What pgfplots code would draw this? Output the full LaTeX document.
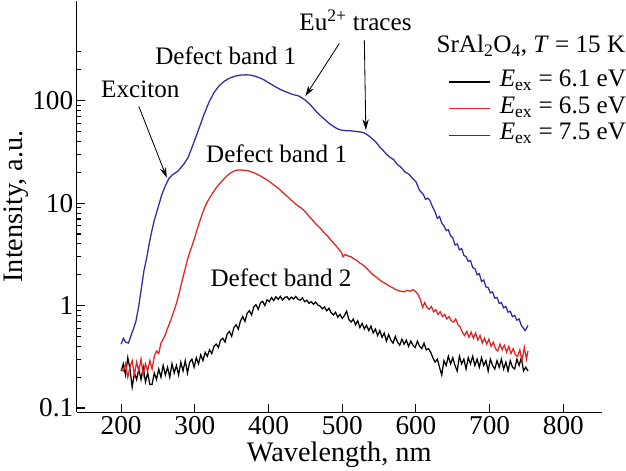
\documentclass[border=0pt]{standalone}
\usepackage{fontspec}
\setmainfont{Liberation Serif}
\usepackage{pgfplots}
\pgfplotsset{compat=1.18}
\usetikzlibrary{arrows.meta}
\definecolor{cred}{RGB}{225,35,35}
\definecolor{cblue}{RGB}{50,40,160}
\begin{document}
\begin{tikzpicture}
\begin{axis}[
  scale only axis, width=501pt, height=393pt,
  xmin=140, xmax=852, ymode=log, ymin=0.091, ymax=950,
  axis x line*=bottom, axis y line*=left,
  xtick pos=bottom, ytick pos=left,
  axis line style={line width=1.1pt, -},
  tick align=inside, major tick length=8pt, minor tick length=4pt,
  tick style={line width=1pt, black},
  xtick={200,300,...,800},
  ytick={0.1,1,10,100}, yticklabels={0.1,1,10,100},
  minor ytick={0.2,0.3,0.4,0.5,0.6,0.7,0.8,0.9,2,3,4,5,6,7,8,9,20,30,40,50,60,70,80,90,200,300},
  /pgf/number format/assume math mode=true,
  ticklabel style={font=\fontsize{26}{26}\selectfont},
  label style={font=\fontsize{27}{27}\selectfont},
  ylabel style={xshift=0pt, yshift=-3pt},
  xlabel={Wavelength, nm}, ylabel={Intensity, a.u.},
  clip=false,
  legend style={at={(axis description cs:0.707,0.835)}, anchor=north west, draw=none, fill=none, inner sep=0pt,
    font=\fontsize{24}{24}\selectfont,
    nodes={inner sep=0pt, text height=17pt, text depth=8.5pt, anchor=west},
    /tikz/every odd column/.append style={column sep=9pt}},
  legend cell align=left,
  legend image code/.code={\draw[#1, line width=1.3pt] (0pt,0pt) -- (39pt,0pt);},
]
\addplot[black, line width=1.2pt] coordinates {
(200,0.23)(203,0.27)(206,0.21)(209,0.31)(212,0.24)(215,0.16)(218,0.22)(221,0.19)(224,0.24)(227,0.19)
(230,0.25)(233,0.18)(236,0.22)(239,0.17)(242,0.17)(245,0.22)(248,0.19)(251,0.24)(254,0.20)(257,0.26)
(260,0.21)(263,0.25)(266,0.20)(269,0.27)(272,0.22)(275,0.26)(278,0.21)(281,0.28)(284,0.23)(287,0.29)
(290,0.22)(293,0.28)(296,0.30)(299,0.25)(302,0.31)(305,0.27)(308,0.33)(311,0.29)(314,0.35)(317,0.32)
(320,0.37)(323,0.34)(326,0.40)(329,0.42)(332,0.39)(335,0.46)(338,0.48)(341,0.44)(344,0.53)(347,0.56)
(350,0.50)(353,0.61)(356,0.65)(359,0.59)(362,0.71)(365,0.78)(368,0.70)(371,0.84)(374,0.89)(377,0.81)
(380,0.97)(383,1.02)(386,0.92)(389,1.06)(392,1.10)(395,1.00)(398,1.14)(401,1.09)(404,1.20)(407,1.12)
(410,1.22)(413,1.15)(416,1.23)(419,1.13)(422,1.20)(425,1.22)(428,1.14)(431,1.21)(434,1.16)(437,1.23)
(440,1.15)(443,1.13)(446,1.19)(449,1.09)(452,1.13)(455,1.05)(458,1.09)(461,1.03)(464,1.08)(467,1.01)
(470,0.99)(473,0.93)(476,0.97)(479,0.89)(482,0.94)(485,0.85)(488,0.81)(491,0.86)(494,0.77)(497,0.82)
(500,0.75)(503,0.80)(506,0.88)(509,0.73)(512,0.69)(515,0.74)(518,0.65)(521,0.71)(524,0.61)(527,0.67)
(530,0.59)(533,0.64)(536,0.57)(539,0.63)(542,0.54)(545,0.59)(548,0.51)(551,0.57)(554,0.49)(557,0.54)
(560,0.45)(563,0.52)(566,0.46)(569,0.43)(572,0.50)(575,0.44)(578,0.41)(581,0.47)(584,0.42)(587,0.46)
(590,0.40)(593,0.45)(596,0.41)(599,0.39)(602,0.45)(605,0.40)(608,0.38)(611,0.43)(614,0.37)(617,0.38)
(620,0.35)(623,0.31)(626,0.28)(629,0.30)(632,0.25)(635,0.21)(638,0.29)(641,0.26)(644,0.32)(647,0.27)
(650,0.31)(653,0.26)(656,0.23)(659,0.32)(662,0.27)(665,0.30)(668,0.24)(671,0.31)(674,0.27)(677,0.32)
(680,0.26)(683,0.30)(686,0.25)(689,0.31)(692,0.26)(695,0.29)(698,0.23)(701,0.30)(704,0.26)(707,0.24)
(710,0.29)(713,0.25)(716,0.30)(719,0.24)(722,0.28)(725,0.23)(728,0.29)(731,0.25)(734,0.24)(737,0.30)
(740,0.26)(743,0.31)(746,0.23)(749,0.25)(752,0.23)
};
\addlegendentry{\textit{E}\textsubscript{ex} = 6.1 eV}
\addplot[cred, line width=1.2pt] coordinates {
(200,0.24)(203,0.23)(206,0.27)(209,0.20)(212,0.25)(215,0.29)(218,0.21)(221,0.28)(224,0.23)(227,0.30)
(230,0.21)(233,0.27)(236,0.23)(239,0.29)(242,0.24)(245,0.32)(248,0.36)(251,0.34)(254,0.43)(257,0.47)
(260,0.52)(263,0.60)(266,0.68)(269,0.78)(272,0.90)(275,1.05)(278,1.25)(281,1.55)(284,1.9)(287,2.3)
(290,2.8)(293,3.3)(296,3.8)(299,4.4)(302,5.2)(305,6.1)(308,7.1)(311,8.2)(314,9.3)(317,10.3)
(320,11.2)(324,12.5)(328,13.8)(332,15)(336,16.2)(340,17.4)(344,18.6)(348,19.6)(352,20.4)(356,20.9)
(360,21.1)(364,21.0)(368,20.9)(372,20.7)(376,20.3)(380,19.8)(384,19.2)(388,18.6)(392,17.9)(396,17.2)
(400,16.5)(404,15.7)(408,14.9)(412,14.2)(416,13.4)(420,12.6)(424,11.9)(428,11.2)(432,10.5)(436,9.9)
(440,9.4)(444,9.0)(448,8.5)(452,7.9)(456,7.3)(460,6.8)(464,6.3)(468,5.9)(472,5.5)(476,5.1)
(480,4.8)(484,4.4)(488,4.1)(492,3.8)(496,3.5)(499,3.3)(501,3.0)(504,3.15)(508,3.05)(512,3.0)
(516,2.85)(520,2.75)(524,2.6)(528,2.5)(532,2.35)(536,2.2)(540,2.05)(544,1.95)(548,1.85)(552,1.75)
(556,1.68)(560,1.62)(564,1.55)(568,1.50)(572,1.44)(576,1.40)(580,1.38)(584,1.36)(588,1.41)(592,1.38)
(596,1.43)(600,1.36)(603,1.28)(606,1.15)(609,0.96)(612,1.07)(615,0.96)(618,0.92)(621,0.98)(624,0.87)
(627,0.91)(630,0.82)(633,0.87)(636,0.78)(639,0.82)(642,0.74)(645,0.78)(648,0.71)(651,0.69)(654,0.74)
(657,0.65)(660,0.62)(663,0.55)(666,0.51)(669,0.56)(672,0.49)(675,0.55)(678,0.48)(681,0.54)(684,0.46)
(687,0.51)(690,0.43)(693,0.48)(696,0.42)(699,0.47)(702,0.40)(705,0.44)(708,0.38)(711,0.36)(714,0.42)
(717,0.37)(720,0.41)(723,0.35)(726,0.40)(729,0.34)(732,0.38)(735,0.33)(738,0.32)(741,0.37)(744,0.29)
(747,0.39)(750,0.30)(752,0.36)
};
\addlegendentry{\textit{E}\textsubscript{ex} = 6.5 eV}
\addplot[cblue, line width=1.2pt] coordinates {
(200,0.42)(203,0.48)(206,0.44)(210,0.43)(213,0.50)(217,0.60)(220,0.70)(224,1.0)(227,1.4)(231,2.2)
(235,3.0)(238,4.0)(242,5.5)(245,6.8)(250,9)(255,12)(260,14.8)(265,17.5)(270,19)(277,20.5)
(285,24)(291,28)(298,38)(305,52)(312,72)(319,96)(326,120)(333,140)(340,155)(347,166)
(355,174)(362,178)(370,179)(375,178)(380,175)(385,170)(390,165)(395,158)(400,150)(405,143)
(410,136)(415,130)(420,125)(425,121)(430,117)(435,114)(440,112)(445,107)(450,101)(455,94)
(460,86)(465,78)(470,72)(475,67)(480,62)(485,58)(490,55)(495,52.5)(500,51.5)(505,51)
(510,51)(515,50.5)(520,50)(525,49.5)(530,48.5)(535,46)(540,43)(545,40)(550,36)(555,33)
(560,30)(565,28)(570,26.5)(575,23.8)(580,22.3)(585,20.2)(590,19.3)(595,17.6)(600,16.2)(605,13.3)
(610,12.2)(613,10.9)(616,11.2)(619,10.6)(622,9.4)(626,8.2)(629,7.1)(632,7.4)(635,6.4)(638,6.0)
(641,5.4)(644,5.5)(647,4.8)(650,4.6)(653,3.9)(656,4.0)(659,3.5)(662,3.6)(665,3.1)(668,3.0)
(671,2.7)(674,2.75)(677,2.35)(680,2.3)(683,2.0)(686,2.05)(689,1.72)(692,1.78)(695,1.52)(698,1.5)
(701,1.33)(704,1.36)(707,1.18)(710,1.2)(713,1.05)(716,1.07)(719,0.95)(722,0.98)(725,0.86)(728,0.88)
(731,0.78)(734,0.8)(737,0.72)(740,0.74)(743,0.64)(746,0.6)(748,0.57)(750,0.6)(752,0.64)
};
\addlegendentry{\textit{E}\textsubscript{ex} = 7.5 eV}
\begin{scope}[font=\fontsize{24}{24}\selectfont]
\node at (axis cs:226,128) {Exciton};
\node at (axis cs:342,273) {Defect band 1};
\node at (axis cs:518,608) {Eu\textsuperscript{2+} traces};
\node at (axis cs:411,30.5) {Defect band 1};
\node at (axis cs:417,1.85) {Defect band 2};
\node[anchor=base west, inner sep=0pt] at (axis description cs:0.685,0.873) {SrAl\textsubscript{2}O\textsubscript{4}, \textit{T} = 15 K};
\end{scope}
\draw[-{Stealth[length=10pt,width=6pt]}, line width=0.8pt] (axis cs:224,88) -- (axis cs:262,17.7);
\draw[-{Stealth[length=10pt,width=6pt]}, line width=0.8pt] (axis cs:496,362) -- (axis cs:450,111);
\draw[-{Stealth[length=10pt,width=6pt]}, line width=0.8pt] (axis cs:530,389) -- (axis cs:532,52);
\end{axis}
\end{tikzpicture}
\end{document}
